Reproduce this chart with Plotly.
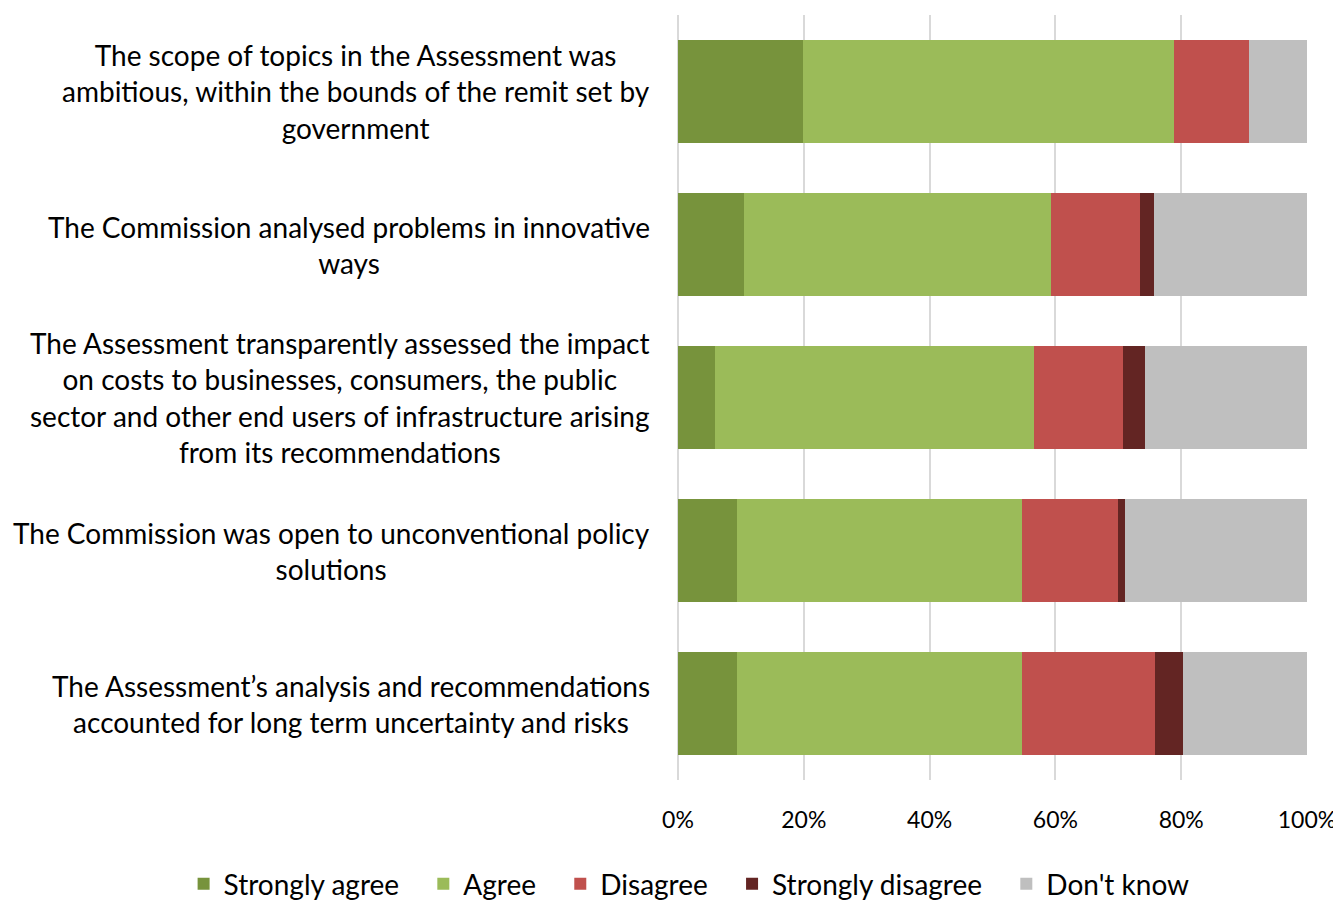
import plotly.graph_objects as go

# Survey statements (top to bottom)
statements = [
    "The scope of topics in the Assessment was<br>ambitious, within the bounds of the remit set by<br>government",
    "The Commission analysed problems in innovative<br>ways",
    "The Assessment transparently assessed the impact<br>on costs to businesses, consumers, the public<br>sector and other end users of infrastructure arising<br>from its recommendations",
    "The Commission was open to unconventional policy<br>solutions",
    "The Assessment\u2019s analysis and recommendations<br>accounted for long term uncertainty and risks",
]
cats = ["q1", "q2", "q3", "q4", "q5"]

# Shares of respondents, percent
strongly_agree = [19.9, 10.5, 5.9, 9.4, 9.4]
agree = [59.0, 48.8, 50.7, 45.3, 45.3]
disagree = [11.8, 14.1, 14.1, 15.3, 21.1]
strongly_disagree = [0.0, 2.2, 3.5, 1.1, 4.5]
dont_know = [9.3, 24.4, 25.8, 28.9, 19.7]

tick_vals = [0, 20, 40, 60, 80, 100]
tick_text = ["0%", "20%", "40%", "60%", "80%", "100%"]

series = [
    ("Strongly agree", strongly_agree, "#77933c"),
    ("Agree", agree, "#9bbb59"),
    ("Disagree", disagree, "#c0504d"),
    ("Strongly disagree", strongly_disagree, "#632523"),
    ("Don't know", dont_know, "#bfbfbf"),
]

font = "Lato, 'Open Sans', sans-serif"

fig = go.Figure()
for name, vals, col in series:
    fig.add_trace(go.Bar(y=cats, x=vals, name=name + "\u2002\u2009\u200a", orientation="h",
                         marker=dict(color=col, line=dict(width=0))))

# statement labels, centred text block to the left of the bars
for c, s in zip(cats, statements):
    fig.add_annotation(x=0, xref="paper", y=c, yref="y", text=s, showarrow=False,
                       xanchor="right", yanchor="middle", align="center", xshift=-26,
                       font=dict(size=28, color="#000", family=font))

fig.update_xaxes(range=[0, 100], tickvals=tick_vals, ticktext=tick_text,
                 showgrid=True, gridcolor="#d9d9d9", gridwidth=2,
                 zeroline=True, zerolinecolor="#d9d9d9", zerolinewidth=2,
                 tickfont=dict(size=23, family=font, color="#000"), ticks="",
                 ticklabelstandoff=24)
fig.update_yaxes(categoryorder="array", categoryarray=cats[::-1], showticklabels=False,
                 showgrid=False, zeroline=False)
fig.update_layout(
    barmode="stack", bargap=0.33,
    width=1341, height=900,
    margin=dict(l=670, r=42, t=7, b=128, autoexpand=False),
    plot_bgcolor="#fff", paper_bgcolor="#fff",
    font=dict(family=font, size=28, color="#000"),
    legend=dict(orientation="h", x=-0.786, xanchor="left",
                y=-0.136, yanchor="middle", font=dict(size=28, family=font),
                traceorder="normal"),
)
fig.write_html("out.html")
